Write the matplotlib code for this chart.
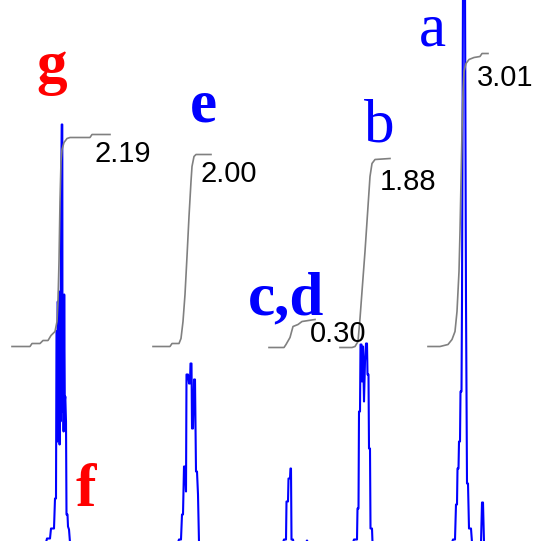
import matplotlib
matplotlib.use("Agg")
import matplotlib.pyplot as plt

# Spectre 1H : (deplacement, intensite)
spec_g = [(0, 0), (46, 0), (47, 4), (50, 4), (51, 14), (54, 14), (55, 44), (56, 44), (56.5, 211), (57.2, 211),
          (57.2, 101), (57.8, 241), (58.4, 121), (59, 251), (59.6, 98), (60, 241), (60.5, 121), (61, 334),
          (61.7, 418), (62.3, 418), (62.5, 131), (63, 246), (63.6, 111), (64.2, 248), (64.8, 141), (65.3, 146),
          (66, 121), (66.5, 28), (67.5, 28), (68, 16), (69, 13), (70, 0)]
spec_e = [(178, 0), (179, 3), (181, 3), (182, 28), (183, 28), (184, 76), (185, 76), (186, 51), (186.5, 168),
          (188, 168), (189, 159), (190, 159), (190.5, 179), (191.5, 179), (192, 114), (193, 114), (194, 163),
          (195, 163), (196, 71), (197, 71), (198, 48), (199, 0)]
spec_cd = [(283, 0), (284, 3), (286, 3), (286.5, 41), (288, 41), (288.5, 64), (290, 64), (290.5, 74), (291, 74),
           (291.5, 3), (293, 3), (293.5, 0), (306, 0), (307, 2), (308, 0)]
spec_b = [(353, 0), (354, 3), (357, 3), (357.5, 34), (358.5, 34), (359, 131), (360, 131), (360.5, 198),
          (361.5, 198), (362, 161), (363, 196), (364, 141), (365, 181), (366, 199), (367, 199), (367.5, 168),
          (368.5, 168), (369, 94), (370, 94), (370.5, 14), (372, 14), (372.5, 0)]
spec_a = [(452, 0), (453, 3), (455, 3), (456, 38), (457, 38), (457.5, 74), (458.5, 74), (459, 101), (460, 101),
          (460.5, 151), (461.5, 151), (462, 241), (463, 560), (465, 560), (466, 241), (467, 59), (468, 59),
          (469, 14), (471, 14), (472, 0), (481, 0), (482, 40), (483, 40), (484, 0), (535, 0)]

# Courbes d'integration
int_g = [(12, 196), (30, 196), (32, 199), (40, 199), (43, 202), (48, 202), (51, 207), (55, 211), (57, 221),
         (58, 241), (59, 281), (60, 341), (61, 381), (62, 393), (64, 400), (67, 404), (70, 405), (90, 405),
         (92, 408), (110, 408)]
int_e = [(153, 196), (170, 196), (172, 199), (179, 199), (181, 204), (183, 221), (185, 248), (187, 286),
         (189, 326), (191, 361), (192, 376), (194, 386), (196, 388), (211, 388)]
int_cd = [(269, 195), (284, 195), (286, 198), (290, 205), (293, 216), (298, 218), (302, 221), (315, 223)]
int_b = [(340, 195), (352, 195), (355, 196), (358, 201), (360, 224), (362, 251), (365, 291), (368, 336),
         (370, 366), (372, 379), (375, 383), (390, 384)]
int_a = [(428, 196), (440, 196), (448, 198), (452, 203), (455, 211), (457, 231), (459, 271), (460, 311),
         (461, 361), (462, 411), (463, 451), (464, 471), (466, 479), (469, 483), (474, 485), (480, 486),
         (482, 489), (488, 489)]

# Valeurs d'integration et attributions
int_values = ["2.19", "2.00", "0.30", "1.88", "3.01"]
int_label_pos = [(95, 380), (200, 361), (310, 200), (380, 352), (477, 457)]

peak_names = ["g", "e", "c,d", "b", "a", "f"]
peak_name_pos = [(36, 459), (190, 421), (248, 228), (364, 401), (419, 497), (76, 36)]
peak_colors = ["red", "blue", "blue", "blue", "blue", "red"]
peak_weights = ["bold", "bold", "bold", "normal", "normal", "bold"]

fig = plt.figure(figsize=(5.35, 5.41), dpi=100)
ax = fig.add_axes([0, 0, 1, 1])

# Trace du spectre (bleu)
spectre = spec_g + spec_e + spec_cd + spec_b + spec_a
ax.plot([p[0] for p in spectre], [p[1] for p in spectre], color="#0000ff", lw=1.5)

# Integrales (gris)
for courbe in [int_g, int_e, int_cd, int_b, int_a]:
    ax.plot([p[0] for p in courbe], [p[1] for p in courbe], color="#808080", lw=1.2)

for txt, (x, y) in zip(int_values, int_label_pos):
    ax.text(x, y, txt, fontsize=21, family="Liberation Sans", color="black", va="baseline", ha="left")

for txt, (x, y), c, w in zip(peak_names, peak_name_pos, peak_colors, peak_weights):
    ax.text(x, y, txt, fontsize=44, family="Liberation Serif", color=c, fontweight=w,
            va="baseline", ha="left")

ax.set_xlim(0, 535)
ax.set_ylim(1.5, 542.5)
ax.axis("off")

fig.savefig("out.png", dpi=100)
